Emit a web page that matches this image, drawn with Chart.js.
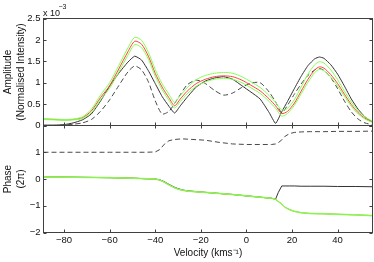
<!DOCTYPE html>
<html><head><meta charset="utf-8">
<script src="https://cdn.jsdelivr.net/npm/chart.js@4.4.1/dist/chart.umd.min.js"></script>
<style>
html,body{margin:0;padding:0;background:#fff;}
#wrap{position:relative;width:374px;height:262px;overflow:hidden;background:#fff;}
canvas{position:absolute;left:0;}
#c1{top:0;} #c2{top:110px;}
</style></head><body>
<div id="wrap"><canvas id="c1" width="374" height="140"></canvas><canvas id="c2" width="374" height="152"></canvas></div>
<script>
// ---- data ----
const velocity = [-89,-84,-80,-76,-72,-68,-64,-60,-56,-52,-49,-46,-43,-40,-37,-34,-31.5,-29,-26,-22,-18,-14,-10,-6,-2,2,6,10,12.8,15.5,18,21,24,27,30,32,34,37,40,43,46,49,52,55.3];
// amplitude, units of 1e-3
const ampBlack  = [0.01,0.01,0.02,0.06,0.13,0.27,0.57,0.92,1.22,1.48,1.62,1.53,1.28,0.98,0.68,0.45,0.29,0.46,0.66,0.9,1.04,1.11,1.14,1.08,0.93,0.78,0.62,0.3,0.05,0.32,0.56,0.86,1.15,1.4,1.56,1.6,1.57,1.42,1.2,0.92,0.62,0.38,0.2,0.08];
const ampDashed = [0.0,0.0,0.01,0.03,0.06,0.14,0.33,0.6,0.93,1.25,1.39,1.3,1.02,0.58,0.27,0.33,0.52,0.72,0.95,1.06,0.98,0.82,0.71,0.76,0.89,0.99,1.0,0.78,0.55,0.3,0.47,0.73,0.97,1.17,1.3,1.33,1.29,1.12,0.86,0.57,0.32,0.15,0.06,0.02];
const ampRed    = [0.15,0.14,0.13,0.14,0.18,0.34,0.65,0.93,1.32,1.72,1.97,1.9,1.62,1.22,0.9,0.65,0.46,0.62,0.8,0.98,1.08,1.14,1.16,1.14,1.06,0.94,0.81,0.62,0.46,0.28,0.33,0.52,0.8,1.08,1.3,1.37,1.34,1.19,0.98,0.73,0.49,0.3,0.17,0.08];
const ampGreenHi= [0.16,0.15,0.14,0.15,0.2,0.38,0.71,1.0,1.4,1.81,2.06,1.99,1.71,1.31,0.98,0.73,0.54,0.7,0.88,1.07,1.17,1.22,1.24,1.22,1.14,1.02,0.89,0.7,0.54,0.36,0.4,0.6,0.9,1.2,1.42,1.49,1.46,1.3,1.07,0.8,0.55,0.34,0.2,0.1];
const ampGreenLo= [0.14,0.13,0.12,0.13,0.16,0.3,0.6,0.87,1.25,1.64,1.89,1.82,1.55,1.15,0.84,0.59,0.41,0.56,0.74,0.92,1.02,1.08,1.1,1.08,1.0,0.88,0.75,0.56,0.4,0.22,0.28,0.47,0.74,1.01,1.24,1.31,1.28,1.13,0.92,0.68,0.45,0.27,0.15,0.07];

const phaseVelocity = [-89,-80,-70,-60,-50,-44,-40,-38,-36,-34,-32,-30,-28,-26,-22,-18,-12,-6,0,6,11,12.8,14,15.5,17,19,21,24,28,34,40,48,55.3];
const phaseDashed = [1.0,1.0,1.0,1.0,1.0,1.0,1.01,1.1,1.3,1.43,1.47,1.49,1.5,1.49,1.47,1.45,1.37,1.31,1.29,1.29,1.29,1.31,1.36,1.46,1.6,1.7,1.74,1.76,1.77,1.77,1.78,1.78,1.79];
const phaseBlack  = [0.07,0.07,0.06,0.05,0.03,0.01,0.0,-0.03,-0.1,-0.2,-0.29,-0.36,-0.41,-0.44,-0.47,-0.5,-0.54,-0.58,-0.63,-0.68,-0.72,-0.75,-0.5,-0.26,-0.26,-0.26,-0.26,-0.27,-0.27,-0.27,-0.28,-0.28,-0.29];
const phaseRed    = [0.07,0.07,0.06,0.05,0.03,0.01,0.0,-0.04,-0.12,-0.22,-0.31,-0.38,-0.42,-0.45,-0.48,-0.5,-0.54,-0.58,-0.63,-0.68,-0.72,-0.76,-0.84,-0.94,-1.06,-1.15,-1.21,-1.26,-1.29,-1.3,-1.32,-1.34,-1.37];
const phaseGreenHi= [0.08,0.08,0.07,0.06,0.04,0.02,0.01,-0.03,-0.11,-0.21,-0.3,-0.37,-0.41,-0.44,-0.47,-0.49,-0.53,-0.57,-0.62,-0.67,-0.71,-0.75,-0.83,-0.93,-1.05,-1.14,-1.2,-1.25,-1.28,-1.29,-1.31,-1.33,-1.36];
const phaseGreenLo= [0.06,0.06,0.05,0.04,0.02,0.0,-0.01,-0.05,-0.13,-0.23,-0.32,-0.39,-0.43,-0.46,-0.49,-0.51,-0.55,-0.59,-0.64,-0.69,-0.73,-0.77,-0.85,-0.95,-1.07,-1.16,-1.22,-1.27,-1.3,-1.31,-1.33,-1.35,-1.38];

const xTicks = [-80,-60,-40,-20,0,20,40];
const ampTicks = [0,0.5,1,1.5,2,2.5];
const phaseTicks = [-2,-1,0,1,2];

// ---- styles ----
const FONT = "'Liberation Sans', Arial, Helvetica, sans-serif";
const C_BLACK = '#333333', C_DASH = '#4a4a4a', C_RED = '#ff4040', C_GREEN = '#84ff52';
const fmt = v => String(v).replace('-', '\u2212');

function pts(xs, ys){ return xs.map((x,i)=>({x:x, y:ys[i]})); }
function ds(xs, ys, color, dash, tension){
  return {data: pts(xs, ys), borderColor: color, borderWidth: 1, borderDash: dash || [], pointRadius: 0, fill: false, tension: tension};
}

const framePlugin = {
  id: 'frame',
  afterDraw(chart, args, opts){
    const {ctx, chartArea: a, scales} = chart;
    ctx.save();
    ctx.strokeStyle = '#404040'; ctx.lineWidth = 1;
    ctx.strokeRect(a.left, a.top, a.right - a.left, a.bottom - a.top);
    const L = 3;
    ctx.beginPath();
    opts.xTicks.forEach(v => {
      const x = Math.round(scales.x.getPixelForValue(v)) + 0.5;
      if (opts.bottom) { ctx.moveTo(x, a.bottom); ctx.lineTo(x, a.bottom - L); }
      if (opts.top) { ctx.moveTo(x, a.top); ctx.lineTo(x, a.top + L); }
    });
    opts.yTicks.forEach(v => {
      const y = Math.round(scales.y.getPixelForValue(v)) + 0.5;
      ctx.moveTo(a.left, y); ctx.lineTo(a.left + L, y);
      ctx.moveTo(a.right, y); ctx.lineTo(a.right - L, y);
    });
    ctx.stroke();
    if (opts.exponent) {
      ctx.fillStyle = '#111';
      ctx.textBaseline = 'alphabetic'; ctx.textAlign = 'left';
      ctx.font = '9px ' + FONT;
      ctx.fillText('x 10', a.left - 0.5, 15.5);
      ctx.font = '7px ' + FONT;
      ctx.fillText('\u22123', a.left + 15, 9);
    }
    ctx.restore();
  }
};

const common = {
  responsive: false, animation: false, devicePixelRatio: 1,
  plugins: { legend: {display: false}, tooltip: {enabled: false} },
  events: []
};

function yScale(min, max, ticks, title, hideTop){
  return {
    type: 'linear', min: min, max: max,
    afterBuildTicks: s => { s.ticks = ticks.map(v => ({value: v})); },
    afterFit: s => { s.width = 43.5; },
    grid: {display: false, drawTicks: false},
    border: {display: false},
    ticks: {
      padding: 3, color: '#111', font: {family: FONT, size: 9.5},
      callback: v => (hideTop && v === max) ? '' : fmt(v)
    },
    title: {display: true, text: title, color: '#111', font: {family: FONT, size: 10, lineHeight: 1.25}, padding: {top: 2.3, bottom: 0}}
  };
}

new Chart(document.getElementById('c1'), {
  type: 'line',
  data: { datasets: [
    ds(velocity, ampGreenHi, C_GREEN, null, 0.25),
    ds(velocity, ampGreenLo, C_GREEN, null, 0.25),
    ds(velocity, ampRed, C_RED, null, 0.25),
    ds(velocity, ampBlack, C_BLACK, null, 0.15),
    ds(velocity, ampDashed, C_DASH, [5,3], 0.25)
  ]},
  options: Object.assign({}, common, {
    layout: {padding: {left: 0, right: 1.5, top: 18.5, bottom: 14.5}},
    scales: {
      x: {type: 'linear', min: -89, max: 55.3, display: false},
      y: yScale(0, 2.5, ampTicks, ['Amplitude', '(Normalised Intensity)'], false)
    },
    plugins: Object.assign({}, common.plugins, {frame: {xTicks: xTicks, yTicks: ampTicks, bottom: true, top: false, exponent: true}})
  }),
  plugins: [framePlugin]
});

new Chart(document.getElementById('c2'), {
  type: 'line',
  data: { datasets: [
    ds(phaseVelocity, phaseGreenHi, C_GREEN, null, 0),
    ds(phaseVelocity, phaseGreenLo, C_GREEN, null, 0),
    ds(phaseVelocity, phaseRed, C_RED, null, 0),
    ds(phaseVelocity, phaseBlack, C_BLACK, null, 0),
    ds(phaseVelocity, phaseDashed, C_DASH, [5,3], 0)
  ]},
  options: Object.assign({}, common, {
    layout: {padding: {left: 0, right: 1.5, top: 15.5, bottom: 0}},
    scales: {
      x: {
        type: 'linear', min: -89, max: 55.3,
        afterBuildTicks: s => { s.ticks = xTicks.map(v => ({value: v})); },
        afterFit: s => { s.height = 29.5; },
        grid: {display: false, drawTicks: false},
        border: {display: false},
        ticks: {padding: 2, color: '#111', font: {family: FONT, size: 9.5}, maxRotation: 0, callback: v => fmt(v)},
        title: {display: true, text: 'Velocity (kms\u207B\u00B9)', color: '#111', font: {family: FONT, size: 10, lineHeight: 1.2}, padding: {top: 0, bottom: 2.7}}
      },
      y: yScale(-2, 2, phaseTicks, ['Phase', '(2\u03C0)'], true)
    },
    plugins: Object.assign({}, common.plugins, {frame: {xTicks: xTicks, yTicks: phaseTicks, bottom: true, top: true, exponent: false}})
  }),
  plugins: [framePlugin]
});
</script>
</body></html>
